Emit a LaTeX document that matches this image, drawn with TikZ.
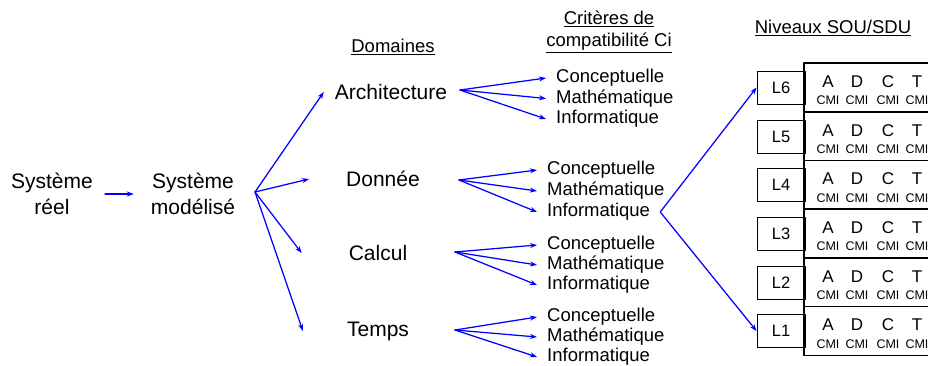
\documentclass[tikz,border=0pt]{standalone}
\usepackage{fontspec}
\setmainfont{Liberation Sans}
\usetikzlibrary{arrows.meta}

\tikzset{
  fleche/.style={-{Stealth[length=7pt,width=5pt]},line width=1.25pt,color=blue},
  grand/.style={font=\fontsize{21}{26}\selectfont,align=center,inner sep=0pt},
  critere/.style={font=\fontsize{18.5}{20}\selectfont,anchor=west,inner xsep=10pt,inner ysep=0pt},
  titre/.style={font=\fontsize{18.5}{22}\selectfont,align=center,inner sep=0pt},
  niveau/.style={draw,line width=0.9pt,minimum width=48pt,minimum height=33pt,inner sep=0pt,font=\fontsize{16.5}{16.5}\selectfont},
  lettre/.style={inner sep=0pt,font=\fontsize{17}{17}\selectfont},
  cmi/.style={inner sep=0pt,font=\fontsize{12.5}{12.5}\selectfont},
}

\begin{document}
\begin{tikzpicture}[x=1pt,y=-1pt,line cap=round,line join=round]
	\useasboundingbox (0,0) rectangle (928,365);
	% titres
	\node[titre] (tdom) at (393,47) {\underline{Domaines}};
	\node[titre] (tcrit) at (609,32) {\underline{Critères de}\\\underline{compatibilité Ci}};
	\node[titre] (tniv) at (833,28) {\underline{Niveaux SOU/SDU}};
	% systemes
	\node[grand] (sreel) at (52,194) {Système\\réel};
	\node[grand] (smod) at (193,194) {Système\\modélisé};
	\draw[fleche] ([xshift=12]sreel.east) -- ([xshift=-17]smod.west);
	% domaines
	\node[grand] (arch) at (391,92) {Architecture};
	\node[grand] (don) at (383,179) {Donnée};
	\node[grand] (calc) at (378,253) {Calcul};
	\node[grand] (temps) at (378,331) {Temps};
	\coordinate (o) at (255,192);
	\draw[fleche] (o) -- ([xshift=-11]arch.west);
	\draw[fleche] (o) -- ([xshift=-37]don.west);
	\draw[fleche] (o) -- ([xshift=-47]calc.west);
	\draw[fleche] (o) -- ([xshift=-44]temps.west);
	% criteres
	\foreach \g/\x/\y/\d/\ox/\oy in {a/546/78/20.5/460/90, d/537/170/21/459/180, c/537/245/20/455/252, t/537/317/20/455/330}{
		\coordinate (o\g) at (\ox,\oy);
		\node[critere] (\g-1) at (\x,\y) {Conceptuelle};
		\node[critere] (\g-2) at (\x,\y+\d) {Mathématique};
		\node[critere] (\g-3) at (\x,\y+2*\d) {Informatique};
		\foreach \i in {1,2,3} \draw[fleche] (o\g) -- (\g-\i.west);
	}
	% niveaux
	\foreach \n/\h in {6/63,5/112,4/160.5,3/209,2/258,1/306.5}{
		\draw[line width=1.1pt] (928,\h) -| (804,\h+48.7) -- (928,\h+48.7);
		\node[niveau] (L\n) at (781,\h+24.5) {L\n};
		\foreach \l/\lx in {A/828,D/857,C/888,T/917}{
			\node[lettre] (\l\n) at (\lx,\h+18.5) {\l};
			\node[cmi] (cmi\l\n) at (\lx,\h+37.5) {CMI};
		}
	}
	\draw[fleche] (d-3.east) -- (L6.west);
	\draw[fleche] (d-3.east) -- (L1.west);
\end{tikzpicture}
\end{document}
